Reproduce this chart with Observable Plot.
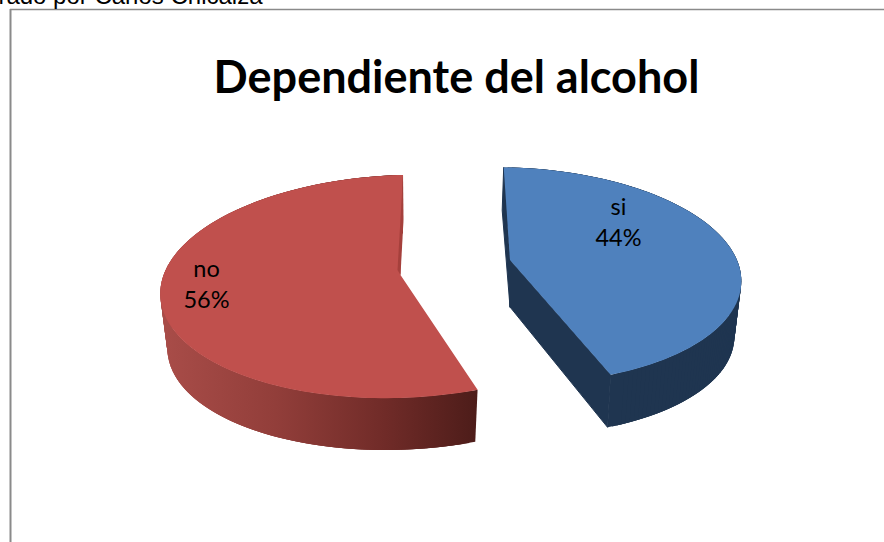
<!DOCTYPE html>
<html>
<head>
<meta charset="utf-8">
<script src="https://cdn.jsdelivr.net/npm/d3@7"></script>
<script src="https://cdn.jsdelivr.net/npm/@observablehq/plot@0.6"></script>
<style>html,body{margin:0;padding:0;background:#fff;overflow:hidden}svg{display:block}</style>
</head>
<body>
<div id="chart"></div>
<script>
const categories = ["si", "no"];
const percents = [44, 56];
const chartTitle = "Dependiente del alcohol";
const overText = "Elaborado por Carlos Chicaiza";

const W = 884, H = 542;
// Perspective view of each exploded slice (pixels on the identity scales).
const view = {
  si: {cx: 509.5, cy: 259.5, R: 229, Ry: 105.6, k: 0.1416, tilt: 0.025, spin: -1.8, sweep: 1.006, depth: 56, apexDepth: 47, top: "#4f81bd", wall: "#1f3550", lx: 618, ly: [214, 245]},
  no: {cx: 400, cy: 274.5, R: 239, Ry: 110.3, k: 0.103, tilt: -0.03, spin: 163.1, sweep: 0.98, depth: 55.5, apexDepth: 50, top: "#c0504d", wall: "url(#noWall)", lx: 206, ly: [276, 307]}
};
const shrink = 0.97;

const total = d3.sum(percents);
const slices = categories.map((c, i) => ({name: c, pct: percents[i], span: percents[i] / total * 360, v: view[c]}));

function project(v, deg, level) {
  const a = deg * Math.PI / 180, u = Math.sin(a), w = -Math.cos(a), d = 1 - v.k * w;
  const f = level ? shrink : 1, dx = f * v.R * u / d;
  return {x: v.cx + dx, y: v.cy + (level ? v.depth : 0) + f * v.Ry * w / d + v.tilt * dx};
}
function arc(s, level) {
  const v = s.v, n = 140, out = [], sw = s.span * v.sweep;
  for (let i = 0; i <= n; i++) out.push(project(v, v.spin + sw * i / n, level));
  return out;
}
const apexTop = s => ({x: s.v.cx, y: s.v.cy});
const apexBottom = s => ({x: s.v.cx, y: s.v.cy + s.v.apexDepth});

const layers = [];
function layer(fill, pieces, stroke) { layers.push({fill, stroke, rows: pieces.flatMap((pts, i) => pts.map(p => ({x: p.x, y: p.y, z: i})))}); }

slices.forEach(s => {
  const topArc = arc(s, 0), botArc = arc(s, 1);
  const a0 = topArc[0], a1 = topArc[topArc.length - 1], b1 = botArc[botArc.length - 1];
  // The wall is a run of overlapping quads, so its outline follows both rims where they cross.
  layer(s.v.wall, topArc.slice(3).map((p, i) => [topArc[i], p, botArc[i + 3], botArc[i]]));
  if (s.name === "si") {
    layer(s.v.wall, [
      [apexTop(s), a0, {x: a0.x - 1.5, y: a0.y + 43}, apexBottom(s)],
      [apexTop(s), a1, b1, apexBottom(s)]
    ], s.v.wall);
  }
  layer(s.v.top, [[apexTop(s), ...topArc]]);
  if (s.name === "no") {
    layer("#a5403c", [[a1, {x: a1.x + 0.5, y: a1.y + 45}, apexTop(s), {x: s.v.cx - 3, y: s.v.cy - 5}]]);
  }
});

const labels = slices.flatMap(s => [
  {x: s.v.lx, y: s.v.ly[0], t: s.name},
  {x: s.v.lx, y: s.v.ly[1], t: s.pct + "%"}
]);

function gradientDefs() {
  const defs = d3.create("svg:defs");
  const g = defs.append("linearGradient").attr("id", "noWall").attr("gradientUnits", "userSpaceOnUse")
    .attr("x1", 165).attr("x2", 479).attr("y1", 0).attr("y2", 0);
  [[0, "#a84c48"], [0.35, "#923e3a"], [0.7, "#702b28"], [1, "#4c1c19"]].forEach(([o, c]) =>
    g.append("stop").attr("offset", o).attr("stop-color", c));
  return defs.node();
}

const plot = Plot.plot({
  width: W, height: H,
  margin: 0,
  x: {domain: [0, W], range: [0, W], axis: null},
  y: {domain: [0, H], range: [0, H], axis: null},
  style: {background: "#fff"},
  marks: [
    gradientDefs,
    Plot.ruleX([10], {y1: 9, y2: H, stroke: "#8a8a8a", strokeWidth: 2}),
    Plot.ruleY([9], {x1: 10, x2: W, stroke: "#8a8a8a", strokeWidth: 1.5}),
    ...layers.map(({fill, stroke, rows}) => Plot.line(rows, {x: "x", y: "y", z: "z", fill, stroke: stroke || "none", strokeWidth: 1, curve: "linear-closed"})),
    Plot.text([overText], {x: () => 262, y: () => 3, text: d => d, textAnchor: "end", lineAnchor: "bottom", fontFamily: "Liberation Sans", fontSize: 24, fill: "#000"}),
    Plot.text([chartTitle], {x: () => 456, y: () => 92, text: d => d, lineAnchor: "bottom", fontFamily: "Lato", fontWeight: 700, fontSize: 45, fill: "#000"}),
    Plot.text(labels, {x: "x", y: "y", text: "t", lineAnchor: "bottom", fontFamily: "Lato", fontSize: 23.5, fill: "#000"})
  ]
});
document.getElementById("chart").append(plot);
</script>
</body>
</html>
